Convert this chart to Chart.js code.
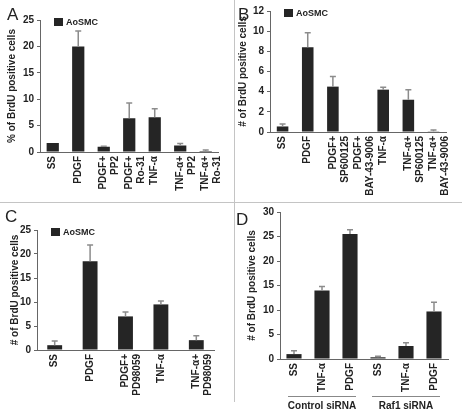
<!DOCTYPE html>
<html>
<head>
<meta charset="utf-8">
<script src="https://cdn.jsdelivr.net/npm/chart.js@4.4.1/dist/chart.umd.min.js"></script>
<style>
  body { margin: 0; background: #fff; }
  #fig { position: relative; width: 462px; height: 414px; overflow: hidden; font-family: 'Liberation Sans', Arial, sans-serif; }
  #fig canvas { position: absolute; }
  .letter { position: absolute; font-size: 17px; line-height: 17px; color: #222; }
  .hline { position: absolute; left: 0; top: 202px; width: 462px; height: 1px; background: #c4c4c4; }
  .vline { position: absolute; left: 234px; top: 0; width: 1px; height: 402px; background: #c4c4c4; }
</style>
</head>
<body>
<div id="fig">
  <canvas id="chartA" width="234" height="202" style="left:0;top:0"></canvas>
  <canvas id="chartB" width="227" height="202" style="left:235px;top:0"></canvas>
  <canvas id="chartC" width="234" height="211" style="left:0;top:203px"></canvas>
  <canvas id="chartD" width="227" height="211" style="left:235px;top:203px"></canvas>
  <div class="hline"></div>
  <div class="vline"></div>
  <div class="letter" style="left:7px;top:6px">A</div>
  <div class="letter" style="left:238px;top:6px">B</div>
  <div class="letter" style="left:5px;top:208px">C</div>
  <div class="letter" style="left:236px;top:211px">D</div>
</div>
<script>
const FONT = "'Liberation Sans', Arial, sans-serif";

// Panel A
const aLabels = ['SS', 'PDGF', ['PDGF+', 'PP2'], ['PDGF+', 'Ro-31'], 'TNF-α', ['TNF-α+', 'PP2'], ['TNF-α+', 'Ro-31']];
const aValues = [1.7, 20.0, 1.0, 6.4, 6.6, 1.25, 0.2];
const aErrors = [0, 2.9, 0.1, 2.9, 1.6, 0.35, 0.2];

// Panel B
const bLabels = ['SS', 'PDGF', ['PDGF+', 'SP600125'], ['PDGF+', 'BAY-43-9006'], 'TNF-α', ['TNF-α+', 'SP600125'], ['TNF-α+', 'BAY-43-9006']];
const bValues = [0.55, 8.4, 4.5, 0, 4.2, 3.2, 0.07];
const bErrors = [0.25, 1.45, 1.0, 0, 0.25, 1.0, 0.13];

// Panel C
const cLabels = ['SS', 'PDGF', ['PDGF+', 'PD98059'], 'TNF-α', ['TNF-α+', 'PD98059']];
const cValues = [1.0, 18.5, 7.0, 9.5, 2.05];
const cErrors = [0.9, 3.4, 0.9, 0.7, 0.9];

// Panel D
const dLabels = ['SS', 'TNF-α', 'PDGF', 'SS', 'TNF-α', 'PDGF'];
const dValues = [1.0, 14.0, 25.5, 0.35, 2.65, 9.7];
const dErrors = [0.7, 0.8, 0.9, 0.2, 0.65, 1.9];
const dGroups = [
  { label: 'Control siRNA', from: 0, to: 2 },
  { label: 'Raf1 siRNA', from: 3, to: 5 }
];

const errorBars = {
  id: 'errorBars',
  afterDatasetsDraw(chart, args, opts) {
    const { ctx, scales: { x, y } } = chart;
    const values = chart.data.datasets[0].data;
    ctx.save();
    ctx.strokeStyle = '#8c8c8c';
    ctx.lineWidth = 1.5;
    opts.errors.forEach((e, i) => {
      if (!e) return;
      const px = x.getPixelForValue(i);
      const top = y.getPixelForValue(values[i]);
      const end = y.getPixelForValue(values[i] + e);
      ctx.beginPath();
      ctx.moveTo(px, top);
      ctx.lineTo(px, end);
      ctx.moveTo(px - 3, end);
      ctx.lineTo(px + 3, end);
      ctx.stroke();
    });
    ctx.restore();
  }
};

const boxLegend = {
  id: 'boxLegend',
  afterDraw(chart, args, opts) {
    if (!opts.text) return;
    const { ctx, chartArea } = chart;
    ctx.save();
    ctx.fillStyle = '#252525';
    ctx.fillRect(chartArea.left + 14, chartArea.top - 2, 9, 8);
    ctx.font = 'bold 9px ' + FONT;
    ctx.textBaseline = 'middle';
    ctx.fillStyle = '#222';
    ctx.fillText(opts.text, chartArea.left + 26, chartArea.top + 2.5);
    ctx.restore();
  }
};

const groupLabels = {
  id: 'groupLabels',
  afterDraw(chart, args, opts) {
    if (!opts.groups) return;
    const { ctx, scales: { x } } = chart;
    ctx.save();
    opts.groups.forEach(g => {
      const x0 = x.getPixelForValue(g.from);
      const x1 = x.getPixelForValue(g.to);
      ctx.strokeStyle = '#888';
      ctx.lineWidth = 1;
      ctx.beginPath();
      ctx.moveTo(x0 - 6, chart.height - 17.5);
      ctx.lineTo(x1 + 6, chart.height - 17.5);
      ctx.stroke();
      ctx.font = 'bold 10px ' + FONT;
      ctx.fillStyle = '#222';
      ctx.textAlign = 'center';
      ctx.textBaseline = 'middle';
      ctx.fillText(g.label, (x0 + x1) / 2, chart.height - 8);
    });
    ctx.restore();
  }
};

function makeChart(id, cfg) {
  return new Chart(document.getElementById(id), {
    type: 'bar',
    data: {
      labels: cfg.labels,
      datasets: [{
        data: cfg.values,
        backgroundColor: '#252525',
        borderWidth: 0,
        categoryPercentage: 1,
        barPercentage: cfg.barPct
      }]
    },
    options: {
      responsive: false,
      animation: false,
      layout: { padding: { left: cfg.padLeft, top: cfg.padTop, right: cfg.padRight, bottom: 0 } },
      scales: {
        x: {
          grid: { display: false, drawTicks: false },
          border: { display: true, color: '#666', width: 1 },
          ticks: {
            autoSkip: false, maxRotation: 90, minRotation: 90, padding: 4,
            color: '#222', font: { family: FONT, size: 10, weight: 'bold' }
          },
          afterFit: (s) => { s.height = cfg.xHeight; }
        },
        y: {
          min: 0, max: cfg.yMax,
          grid: { drawOnChartArea: false, drawTicks: true, tickLength: 3, color: '#666' },
          border: { display: true, color: '#666', width: 1 },
          ticks: {
            stepSize: cfg.yStep, padding: 3,
            color: '#222', font: { family: FONT, size: 10, weight: 'bold' }
          },
          title: {
            display: true, text: cfg.yTitle, color: '#222',
            font: { family: FONT, size: 10, weight: 'bold' },
            padding: { top: cfg.titlePad, bottom: 0 }
          },
          afterFit: (s) => { s.width = cfg.yWidth; }
        }
      },
      plugins: {
        legend: { display: false },
        tooltip: { enabled: false },
        errorBars: { errors: cfg.errors },
        boxLegend: { text: cfg.legend },
        groupLabels: { groups: cfg.groups }
      }
    },
    plugins: [errorBars, boxLegend, groupLabels]
  });
}

makeChart('chartA', {
  labels: aLabels, values: aValues, errors: aErrors,
  yMax: 25, yStep: 5, yTitle: '% of BrdU positive cells', legend: 'AoSMC',
  padLeft: 2, yWidth: 38, padTop: 20, padRight: 4, xHeight: 50, titlePad: 4, barPct: 0.48
});

makeChart('chartB', {
  labels: bLabels, values: bValues, errors: bErrors,
  yMax: 12, yStep: 2, yTitle: '# of BrdU positive cells', legend: 'AoSMC',
  padLeft: 0, yWidth: 35, padTop: 11, padRight: 7, xHeight: 70, titlePad: 2, barPct: 0.46
});

makeChart('chartC', {
  labels: cLabels, values: cValues, errors: cErrors,
  yMax: 25, yStep: 5, yTitle: '# of BrdU positive cells', legend: 'AoSMC',
  padLeft: 5, yWidth: 32, padTop: 27, padRight: 20, xHeight: 64, titlePad: 4, barPct: 0.42
});

makeChart('chartD', {
  labels: dLabels, values: dValues, errors: dErrors,
  yMax: 30, yStep: 5, yTitle: '# of BrdU positive cells', legend: null, groups: dGroups,
  padLeft: 7, yWidth: 38, padTop: 9, padRight: 14, xHeight: 55, titlePad: 4, barPct: 0.54
});
</script>
</body>
</html>
